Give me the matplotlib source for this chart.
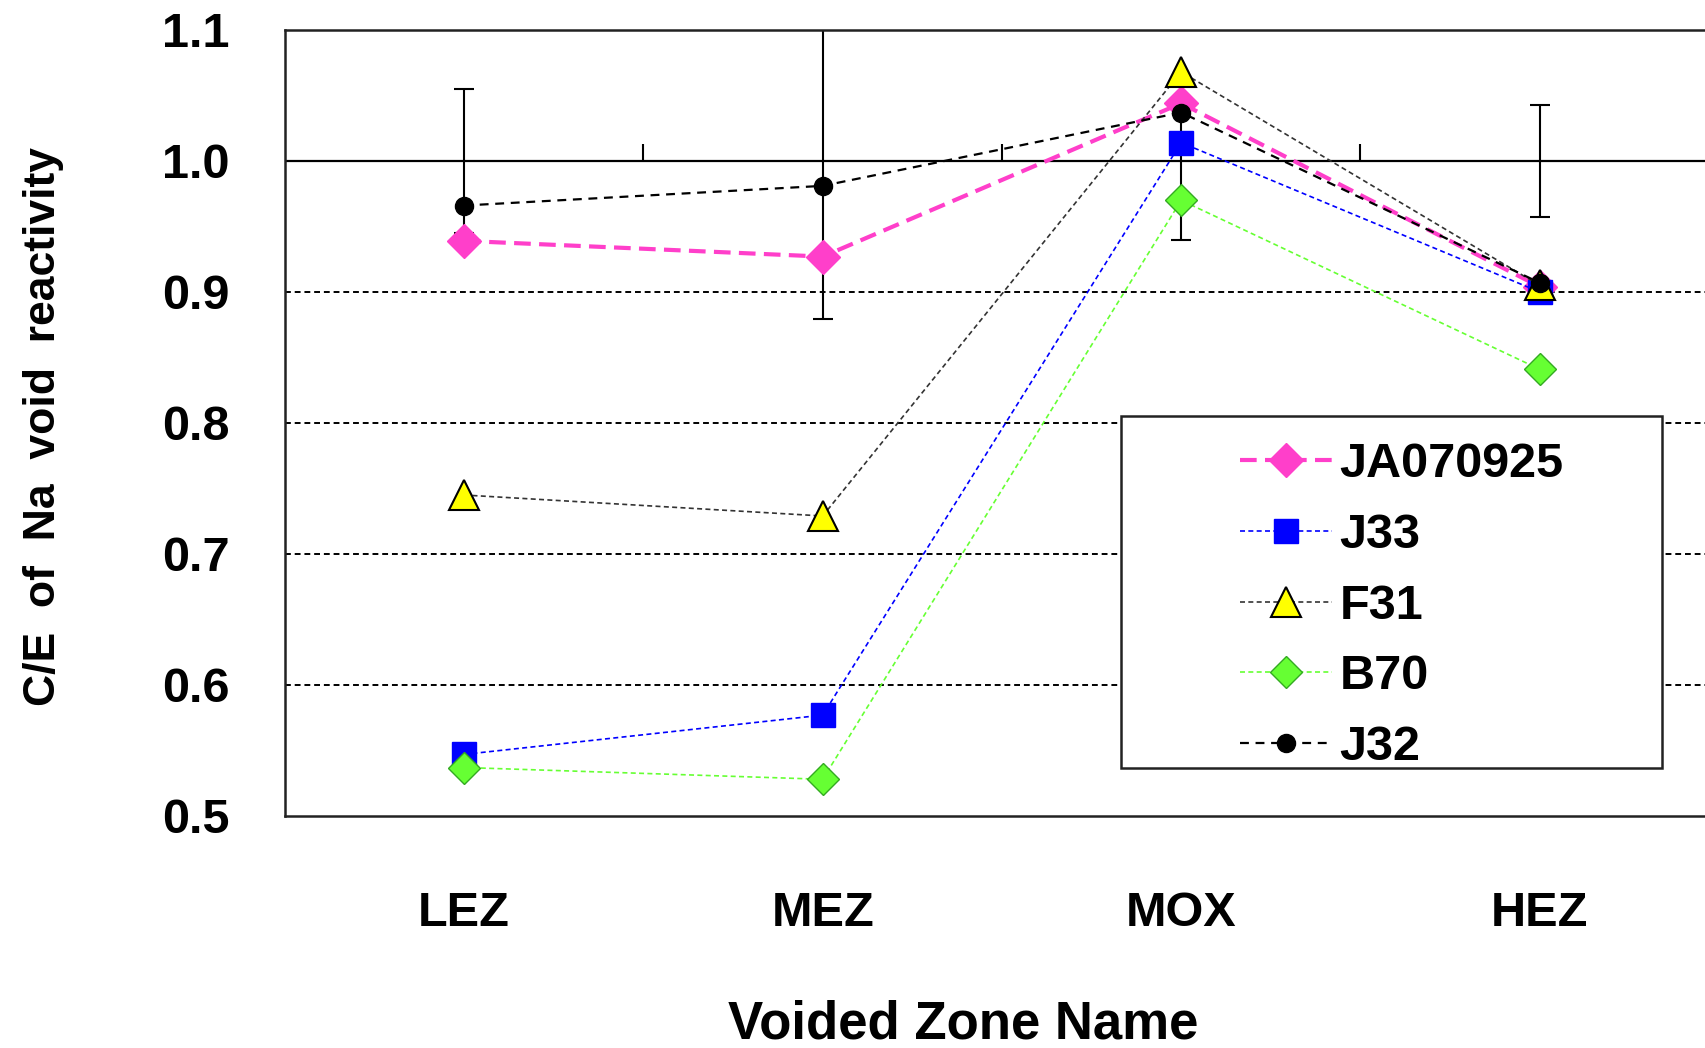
import numpy as np
import matplotlib.pyplot as plt
from matplotlib.patches import Rectangle

plt.rcParams['font.family'] = ['Liberation Sans', 'DejaVu Sans']
plt.rcParams['font.weight'] = 'bold'

zones = ["LEZ", "MEZ", "MOX", "HEZ"]

ja070925 = [0.939, 0.927, 1.044, 0.904]
j33 = [0.547, 0.577, 1.014, 0.900]
f31 = [0.745, 0.729, 1.068, 0.905]
b70 = [0.537, 0.528, 0.970, 0.841]
j32 = [0.966, 0.981, 1.037, 0.907]

# experimental uncertainty around C/E = 1
exp_err = [0.055, 0.121, 0.060, 0.043]

x = np.arange(len(zones))

fig = plt.figure(figsize=(17.06, 10.48), dpi=100)
ax = fig.add_axes([0.167, 0.2214, 0.8406, 0.75])
ax.set_xlim(-0.5, len(zones) - 0.5)
ax.set_ylim(0.5, 1.1)

for yv in [0.6, 0.7, 0.8, 0.9]:
    ax.axhline(yv, color='black', lw=1.4, ls=(0, (3, 2)), zorder=1)
ax.axhline(1.0, color='black', lw=1.6, zorder=1)
# category separators on the C/E = 1 line
ax.plot(x[:-1] + 0.5, np.ones(len(zones) - 1), ls='none', marker=2,
        ms=12, mew=1.5, color='black', zorder=1)

ax.errorbar(x, np.ones(len(zones)), yerr=exp_err, fmt='none', ecolor='black',
            elinewidth=1.5, capsize=7, capthick=1.5, zorder=2)

ax.plot(x, ja070925, color='#ff3fca', lw=3, ls=(0, (4, 2)), marker='D', ms=17,
        mfc='#ff3fca', mec='#ff3fca', label='JA070925', zorder=3)
ax.plot(x, j33, color='#0000ff', lw=1.2, ls=(0, (3, 2)), marker='s', ms=17,
        mfc='#0000ff', mec='#0000ff', label='J33', zorder=4)
ax.plot(x, f31, color='#333333', lw=1.2, ls=(0, (3, 2)), marker='^', ms=22,
        mfc='#ffff00', mec='black', mew=1.5, label='F31', zorder=5)
ax.plot(x, b70, color='#66ff33', lw=1.2, ls=(0, (3, 2)), marker='D', ms=16,
        mfc='#66ff33', mec='#33aa22', mew=1, label='B70', zorder=6)
ax.plot(x, j32, color='black', lw=1.6, ls=(0, (4, 3)), marker='o', ms=13,
        mfc='black', mec='black', label='J32', zorder=7)

ax.set_yticks(np.arange(0.5, 1.11, 0.1))
ax.set_yticklabels([f"{v:.1f}" for v in np.arange(0.5, 1.11, 0.1)])
ax.set_xticks(x)
ax.set_xticklabels(zones)
ax.tick_params(axis='y', length=0, pad=40, labelsize=35)
ax.tick_params(axis='x', length=0, pad=54, labelsize=35)

for s in ax.spines.values():
    s.set_linewidth(1.8)
    s.set_color('#222222')

ax.set_xlabel("Voided Zone Name", fontsize=38, fontweight='bold')
ax.xaxis.set_label_coords(0.473, -0.265)
ax.xaxis.label.set_va('center')
ax.set_ylabel("C/E  of  Na  void  reactivity", fontsize=32, fontweight='bold')
ax.yaxis.set_label_coords(-0.168, 0.495)
ax.yaxis.label.set_va('center')

ax.add_patch(Rectangle((0.583, 0.061), 0.377, 0.448, transform=ax.transAxes,
                       facecolor='white', edgecolor='#222222', lw=1.8, zorder=8))
leg = ax.legend(loc='center left', bbox_to_anchor=(0.666, 0.267), frameon=False,
                fontsize=35, handlelength=1.9, handletextpad=0.15,
                labelspacing=0.53, borderpad=0, borderaxespad=0)
leg.set_zorder(9)

fig.savefig("out.png", dpi=100)
